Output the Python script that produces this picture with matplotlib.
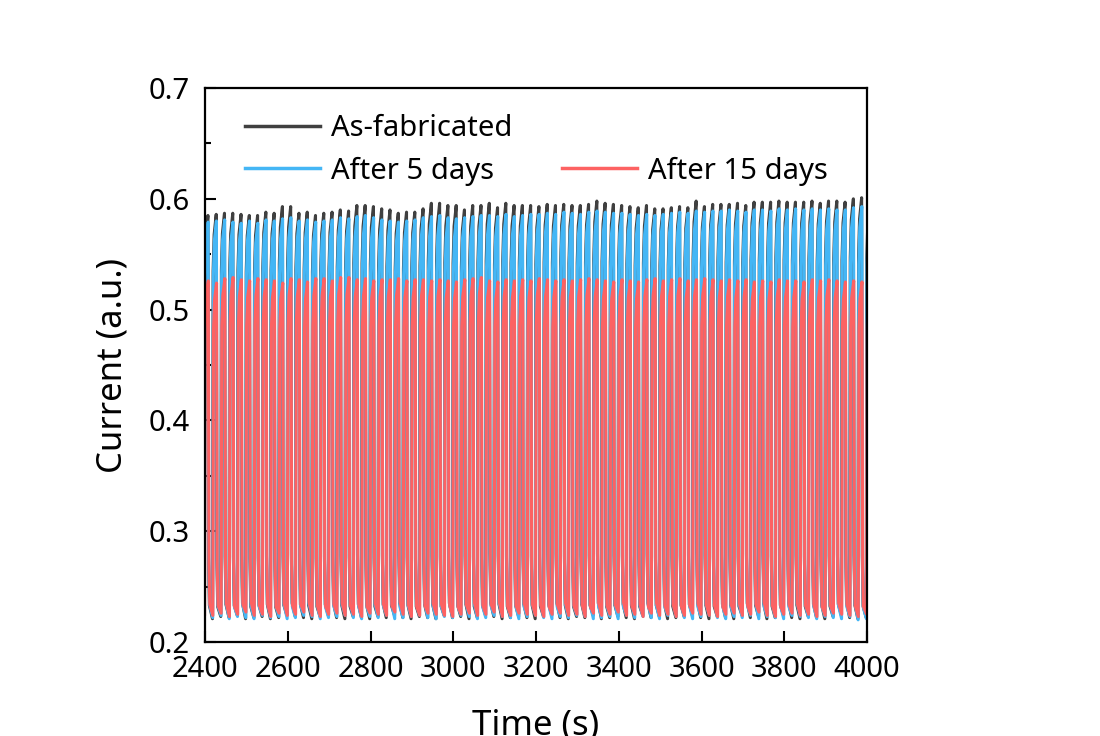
import numpy as np
import matplotlib
matplotlib.use('Agg')
import matplotlib.pyplot as plt
from matplotlib.lines import Line2D
from matplotlib.ticker import MultipleLocator

plt.rcParams['font.family'] = ['Noto Sans', 'DejaVu Sans']

# on/off cycling: one cycle every 20 s, 81 cycles from 2398 s
period = 20.0
t_start = 2398.0

# peak current of each cycle
fab_peak = [0.585, 0.586, 0.587, 0.587, 0.586, 0.585, 0.585, 0.588, 0.587, 0.593,
            0.593, 0.587, 0.588, 0.585, 0.587, 0.588, 0.590, 0.589, 0.594, 0.594,
            0.593, 0.591, 0.590, 0.587, 0.588, 0.588, 0.591, 0.596, 0.596, 0.594,
            0.594, 0.590, 0.594, 0.594, 0.596, 0.592, 0.596, 0.594, 0.594, 0.594,
            0.593, 0.595, 0.594, 0.595, 0.594, 0.594, 0.595, 0.598, 0.596, 0.595,
            0.594, 0.593, 0.592, 0.594, 0.591, 0.591, 0.592, 0.593, 0.592, 0.598,
            0.593, 0.595, 0.595, 0.595, 0.596, 0.594, 0.597, 0.597, 0.597, 0.598,
            0.597, 0.597, 0.597, 0.598, 0.596, 0.598, 0.598, 0.597, 0.600, 0.601,
            0.599]
d5_peak = [0.579, 0.580, 0.581, 0.579, 0.578, 0.580, 0.578, 0.581, 0.580, 0.582,
           0.583, 0.580, 0.581, 0.579, 0.580, 0.581, 0.583, 0.582, 0.584, 0.585,
           0.583, 0.581, 0.580, 0.579, 0.580, 0.581, 0.583, 0.584, 0.585, 0.583,
           0.582, 0.583, 0.584, 0.585, 0.585, 0.584, 0.586, 0.584, 0.585, 0.586,
           0.586, 0.587, 0.586, 0.588, 0.587, 0.586, 0.588, 0.589, 0.588, 0.587,
           0.587, 0.586, 0.585, 0.586, 0.585, 0.586, 0.587, 0.588, 0.587, 0.589,
           0.588, 0.589, 0.589, 0.590, 0.589, 0.588, 0.590, 0.590, 0.589, 0.591,
           0.590, 0.591, 0.590, 0.591, 0.590, 0.591, 0.590, 0.590, 0.592, 0.593,
           0.592]
d15_peak = [0.526, 0.524, 0.528, 0.529, 0.527, 0.526, 0.528, 0.527, 0.526, 0.524,
            0.528, 0.527, 0.525, 0.528, 0.528, 0.526, 0.529, 0.529, 0.527, 0.528,
            0.526, 0.527, 0.527, 0.528, 0.526, 0.527, 0.527, 0.526, 0.527, 0.526,
            0.525, 0.527, 0.528, 0.529, 0.526, 0.525, 0.527, 0.526, 0.527, 0.526,
            0.528, 0.527, 0.526, 0.527, 0.526, 0.527, 0.528, 0.527, 0.526, 0.525,
            0.527, 0.526, 0.525, 0.527, 0.528, 0.526, 0.527, 0.528, 0.526, 0.527,
            0.528, 0.527, 0.526, 0.527, 0.526, 0.527, 0.525, 0.526, 0.525, 0.527,
            0.526, 0.526, 0.525, 0.527, 0.526, 0.527, 0.526, 0.525, 0.526, 0.525,
            0.526]

# trough current of each cycle
fab_low = [0.222, 0.221, 0.223, 0.222, 0.224, 0.221, 0.222, 0.223, 0.221, 0.222,
           0.224, 0.223, 0.222, 0.221, 0.223, 0.224, 0.222, 0.221, 0.223, 0.222,
           0.221, 0.223, 0.222, 0.224, 0.222, 0.221, 0.223, 0.222, 0.221, 0.224,
           0.222, 0.223, 0.221, 0.222, 0.224, 0.223, 0.221, 0.222, 0.223, 0.222,
           0.221, 0.223, 0.224, 0.222, 0.221, 0.223, 0.222, 0.224, 0.221, 0.222,
           0.223, 0.222, 0.221, 0.224, 0.222, 0.223, 0.221, 0.222, 0.223, 0.224,
           0.222, 0.221, 0.223, 0.222, 0.221, 0.224, 0.222, 0.223, 0.221, 0.222,
           0.224, 0.222, 0.221, 0.223, 0.222, 0.221, 0.223, 0.224, 0.222, 0.221,
           0.222]
d5_low = [0.223, 0.222, 0.224, 0.221, 0.223, 0.222, 0.221, 0.224, 0.222, 0.223,
          0.221, 0.222, 0.224, 0.223, 0.221, 0.222, 0.223, 0.224, 0.222, 0.221,
          0.223, 0.222, 0.224, 0.221, 0.222, 0.223, 0.224, 0.222, 0.221, 0.223,
          0.222, 0.224, 0.223, 0.221, 0.222, 0.224, 0.223, 0.222, 0.221, 0.223,
          0.224, 0.222, 0.221, 0.223, 0.222, 0.224, 0.223, 0.221, 0.222, 0.223,
          0.221, 0.224, 0.222, 0.223, 0.222, 0.221, 0.224, 0.223, 0.222, 0.221,
          0.223, 0.224, 0.222, 0.221, 0.223, 0.222, 0.224, 0.221, 0.223, 0.222,
          0.221, 0.224, 0.223, 0.222, 0.221, 0.223, 0.222, 0.221, 0.223, 0.220,
          0.221]
d15_low = [0.225, 0.224, 0.226, 0.223, 0.225, 0.227, 0.224, 0.225, 0.223, 0.226,
           0.224, 0.225, 0.227, 0.224, 0.223, 0.225, 0.226, 0.224, 0.225, 0.223,
           0.226, 0.225, 0.224, 0.227, 0.225, 0.223, 0.224, 0.226, 0.225, 0.224,
           0.223, 0.225, 0.226, 0.224, 0.225, 0.227, 0.223, 0.224, 0.226, 0.225,
           0.224, 0.223, 0.225, 0.226, 0.224, 0.225, 0.223, 0.226, 0.224, 0.225,
           0.227, 0.224, 0.225, 0.223, 0.226, 0.224, 0.225, 0.223, 0.224, 0.226,
           0.225, 0.224, 0.223, 0.225, 0.226, 0.224, 0.225, 0.227, 0.224, 0.223,
           0.225, 0.226, 0.224, 0.225, 0.223, 0.224, 0.226, 0.225, 0.224, 0.223,
           0.225]

labels = ['As-fabricated', 'After 5 days', 'After 15 days']
colors = ['#404040', '#44b6f5', '#fd6262']
shifts = [0.0, 0.5, 0.9]   # small lag between the three runs (s)

# one pulse: time into the cycle (s) and fraction of the low->peak swing
pulse_t = [0.0, 1.5, 4.0, 9.0, 10.5, 12.5]
pulse_frac = [0.0, 0.86, 0.95, 1.0, 0.15, 0.03]


def trace(peaks, lows, shift):
    t, y = [], []
    for i, (hi, lo) in enumerate(zip(peaks, lows)):
        t0 = t_start + shift + i * period
        for dt, f in zip(pulse_t, pulse_frac):
            t.append(t0 + dt)
            y.append(lo + f * (hi - lo))
    return np.array(t), np.array(y)


fig = plt.figure(figsize=(11, 7.36), dpi=100)
ax = fig.add_axes([0.1864, 0.1277, 0.6018, 0.7527])

series = [(fab_peak, fab_low), (d5_peak, d5_low), (d15_peak, d15_low)]
for (pk, lo), c, s in zip(series, colors, shifts):
    t, y = trace(pk, lo, s)
    ax.plot(t, y, color=c, lw=2.2, solid_joinstyle='round')

ax.set_xlim(2400, 4000)
ax.set_ylim(0.2, 0.7)
ax.xaxis.set_major_locator(MultipleLocator(200))
ax.yaxis.set_major_locator(MultipleLocator(0.1))
ax.yaxis.set_minor_locator(MultipleLocator(0.05))
ax.tick_params(which='both', direction='in', labelsize=21, width=1.5,
               top=False, right=False)
ax.tick_params(axis='x', pad=9)
ax.tick_params(axis='y', pad=11)
ax.tick_params(which='major', length=8)
ax.tick_params(which='minor', length=4)
for sp in ax.spines.values():
    sp.set_linewidth(1.6)

ax.set_xlabel('Time (s)', fontsize=25, labelpad=18)
ax.set_ylabel('Current (a.u.)', fontsize=25, labelpad=14)

# two-column legend, upper-right slot left empty
handles = [Line2D([], [], color=colors[0], lw=2.5),
           Line2D([], [], color=colors[1], lw=2.5),
           Line2D([], [], color='none'),
           Line2D([], [], color=colors[2], lw=2.5)]
names = [labels[0], labels[1], '', labels[2]]
ax.legend(handles, names, ncol=2, frameon=False, fontsize=21,
          loc='upper left', bbox_to_anchor=(0.02, 1.0),
          handlelength=2.6, handletextpad=0.35, columnspacing=1.7,
          labelspacing=0.45)

fig.savefig('out.png', dpi=100)
